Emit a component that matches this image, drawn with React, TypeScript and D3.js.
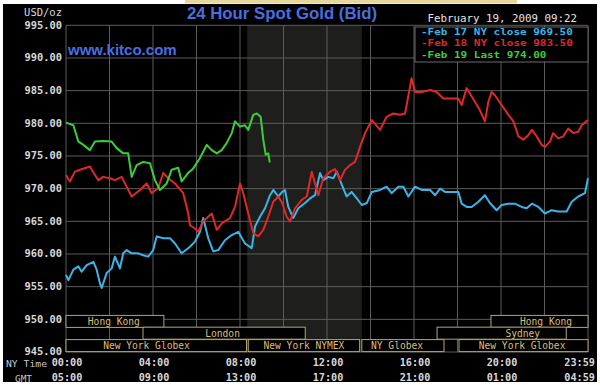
import React from "react";
import * as d3 from "d3";

const title = "24 Hour Spot Gold (Bid)";
const stamp = "February 19, 2009 09:22";
const yTicks = [945, 950, 955, 960, 965, 970, 975, 980, 985, 990, 995];
const xTickHours = [0, 4, 8, 12, 16, 20, 24];
const nyLabels = ["00:00", "04:00", "08:00", "12:00", "16:00", "20:00", "23:59"];
const gmtLabels = ["05:00", "09:00", "13:00", "17:00", "21:00", "01:00", "04:59"];
const gridHours = [0, 2, 4, 6, 8, 10, 12, 14, 16, 18, 20, 22, 24];
const nymexShade = [8.33, 13.6];

const legendLabels = ["-Feb 17 NY close 969.50", "-Feb 18 NY close 983.50", "-Feb 19 Last 974.00"];

// sessions: [name, row, startHour, endHour, labelHour]
const sessions: [string, number, number, number, number][] = [
  ["Hong Kong", 0, 0, 4.5, 2.2],
  ["Hong Kong", 0, 19.54, 24, 22.07],
  ["London", 1, 3.54, 11, 7.2],
  ["Sydney", 1, 17.06, 23, 21.0],
  ["New York Globex", 2, 0, 8.3, 3.7],
  ["New York NYMEX", 2, 8.38, 13.5, 10.94],
  ["NY Globex", 2, 13.6, 17.38, 15.22],
  ["New York Globex", 2, 18.07, 24, 20.97],
];

// Feb 17 (cyan): [hour, price]
const feb17: [number, number][] = [
  [0, 956.8], [0.11, 956.0], [0.34, 957.6], [0.57, 958.1], [0.72, 957.3], [0.95, 958.3],
  [1.26, 958.8], [1.41, 957.6], [1.56, 955.5], [1.64, 954.8], [1.87, 957.1], [2.1, 957.8],
  [2.25, 959.6], [2.48, 957.8], [2.63, 960.1], [2.79, 960.6], [3.02, 960.1], [3.32, 960.1],
  [3.55, 959.8], [3.78, 959.6], [4.01, 960.6], [4.17, 962.7], [4.47, 962.4], [4.78, 962.4],
  [5.01, 961.6], [5.32, 960.1], [5.7, 961.1], [5.93, 961.9], [6.16, 963.4], [6.31, 965.5],
  [6.54, 962.4], [6.77, 960.4], [7.0, 960.6], [7.31, 962.1], [7.62, 962.9], [7.92, 963.4],
  [8.23, 961.6], [8.54, 960.9], [8.69, 964.2], [8.92, 965.7], [9.15, 967.0], [9.38, 969.0],
  [9.53, 969.8], [9.76, 968.8], [9.94, 969.5], [10.07, 969.8], [10.22, 967.2], [10.45, 965.5],
  [10.68, 967.0], [10.99, 967.8], [11.22, 968.5], [11.45, 969.0], [11.68, 972.4], [11.83, 971.3],
  [12.06, 971.8], [12.29, 971.6], [12.45, 972.6], [12.68, 970.6], [12.9, 968.8], [13.13, 969.5],
  [13.37, 968.5], [13.6, 967.5], [13.83, 967.8], [14.06, 969.5], [14.44, 969.8], [14.74, 970.3],
  [14.97, 969.3], [15.28, 970.3], [15.51, 970.3], [15.74, 968.8], [16.05, 970.3], [16.35, 969.8],
  [16.74, 969.8], [16.97, 969.0], [17.2, 970.0], [17.43, 969.5], [18.04, 969.5], [18.19, 967.7],
  [18.42, 967.2], [18.65, 967.2], [18.96, 968.0], [19.26, 969.0], [19.49, 967.8], [19.8, 966.7],
  [20.03, 967.5], [20.34, 967.7], [20.64, 967.7], [20.95, 967.2], [21.18, 967.0], [21.42, 967.7],
  [21.72, 967.2], [22.02, 966.2], [22.33, 966.7], [22.63, 966.5], [23.02, 966.5], [23.25, 968.0],
  [23.55, 968.8], [23.86, 969.3], [24.0, 971.6],
];

// Feb 18 (red): [hour, price]
const feb18: [number, number][] = [
  [0, 972.1], [0.18, 971.1], [0.41, 972.6], [0.64, 972.9], [1.1, 973.4], [1.33, 972.1],
  [1.49, 971.3], [1.71, 971.8], [2.02, 971.6], [2.25, 971.3], [2.56, 971.8], [2.71, 970.8],
  [3.02, 968.8], [3.4, 969.8], [3.71, 970.8], [3.94, 969.3], [4.24, 970.1], [4.47, 972.4],
  [4.7, 971.6], [5.01, 970.8], [5.39, 969.3], [5.62, 966.2], [5.7, 964.4], [5.93, 963.9],
  [6.08, 963.4], [6.31, 965.0], [6.7, 966.2], [6.93, 963.7], [7.16, 964.7], [7.54, 965.5],
  [7.77, 967.2], [8.0, 970.8], [8.15, 969.3], [8.38, 966.2], [8.61, 963.2], [8.84, 962.7],
  [9.07, 963.7], [9.3, 965.7], [9.53, 968.0], [9.76, 968.8], [9.94, 967.8], [10.15, 965.7],
  [10.3, 965.0], [10.53, 967.0], [10.84, 968.3], [11.07, 968.8], [11.3, 972.6], [11.45, 970.8],
  [11.6, 969.0], [11.83, 971.6], [12.14, 972.6], [12.37, 973.0], [12.6, 971.3], [12.83, 972.9],
  [13.06, 973.6], [13.29, 974.1], [13.52, 976.4], [13.75, 978.5], [14.06, 980.5], [14.44, 979.0],
  [14.74, 981.0], [15.05, 981.5], [15.36, 981.3], [15.59, 981.5], [15.89, 986.9], [16.05, 984.8],
  [16.35, 984.8], [16.74, 985.1], [17.04, 984.8], [17.35, 983.8], [18.04, 983.8], [18.19, 982.8],
  [18.42, 985.4], [18.8, 983.3], [19.03, 982.0], [19.26, 980.3], [19.42, 983.3], [19.57, 984.8],
  [19.72, 984.3], [20.03, 982.8], [20.34, 981.3], [20.57, 980.3], [20.8, 978.0], [21.03, 977.5],
  [21.26, 978.2], [21.42, 979.0], [21.64, 978.0], [21.87, 976.7], [22.02, 976.4], [22.25, 977.2],
  [22.4, 978.5], [22.63, 977.7], [22.86, 978.0], [23.09, 979.2], [23.32, 978.5], [23.55, 978.7],
  [23.71, 979.7], [24.0, 980.5],
];

// Feb 19 (green): [hour, price]
const feb19: [number, number][] = [
  [0, 980.1], [0.34, 979.7], [0.57, 977.2], [0.8, 976.7], [1.1, 975.9], [1.33, 977.2],
  [1.71, 977.3], [2.1, 977.2], [2.33, 976.2], [2.63, 975.4], [2.86, 975.4], [3.02, 971.8],
  [3.25, 973.6], [3.55, 974.1], [3.86, 973.9], [4.09, 971.3], [4.32, 969.8], [4.63, 970.8],
  [4.86, 972.9], [5.16, 973.2], [5.32, 971.1], [5.62, 972.4], [5.85, 973.1], [6.16, 974.7],
  [6.47, 976.7], [6.7, 975.9], [6.93, 975.4], [7.16, 975.9], [7.39, 977.0], [7.62, 978.5],
  [7.77, 980.3], [8.0, 979.5], [8.23, 979.7], [8.38, 979.0], [8.61, 981.3], [8.77, 981.5],
  [8.95, 981.0], [9.07, 977.5], [9.18, 975.2], [9.3, 975.4], [9.37, 974.0],
];

const seriesColors = ["#3cb4e6", "#e02828", "#3ccc3c"];

export default function App() {
  const W = 600, H = 385;
  const x = d3.scaleLinear().domain([0, 24]).range([66, 588]);
  const y = d3.scaleLinear().domain([945, 995]).range([352, 25.3]);
  const line = d3.line<[number, number]>().x((d) => x(d[0])).y((d) => y(d[1]));
  const mono = "'DejaVu Sans Mono', monospace";
  const sans = "'Liberation Sans', Arial, sans-serif";
  const rowTop = [y(950.6), y(948.8), y(946.9)];
  const rowH = 12;
  const series = [feb17, feb18, feb19];
  const last = xTickHours.length - 1;

  return (
    <svg width={W} height={H} style={{ position: "absolute", left: 0, top: 0, background: "#fff" }}>
      <rect x={3} y={4} width={594} height={378} fill="#000" />
      <rect x={185} y={0} width={332} height={3.5} fill="#e6d79e" />
      {/* NYMEX shade */}
      <rect x={x(nymexShade[0])} y={y(995)} width={x(nymexShade[1]) - x(nymexShade[0])} height={y(945) - y(995)} fill="#1e1e1c" />
      {/* grid */}
      {gridHours.map((h) => (
        <line key={"v" + h} x1={x(h)} x2={x(h)} y1={y(995)} y2={y(945)} stroke="#5c5c5c" strokeWidth={1} />
      ))}
      {yTicks.map((v) => (
        <line key={"h" + v} x1={x(0)} x2={x(24)} y1={y(v)} y2={y(v)} stroke="#5c5c5c" strokeWidth={1} />
      ))}
      {/* sessions */}
      {sessions.map(([name, row, s, e, lab], i) => (
        <g key={"s" + i}>
          <rect x={x(s)} y={rowTop[row]} width={x(e) - x(s)} height={rowH} fill="#000" stroke="#b4a46e" strokeWidth={1} />
          <text x={x(lab)} y={rowTop[row] + rowH / 2 + 0.5} textAnchor="middle" dominantBaseline="middle" fill="#d8bf78" fontFamily={mono} fontSize={9.6}>
            {name}
          </text>
        </g>
      ))}
      {/* series */}
      {series.map((s, i) => (
        <path key={"p" + i} d={line(s) || ""} fill="none" stroke={seriesColors[i]} strokeWidth={2} strokeLinejoin="round" />
      ))}
      {/* y labels */}
      <text x={62} y={13} textAnchor="end" dominantBaseline="middle" fill="#d8d8d8" fontFamily={mono} fontSize={10.5}>USD/oz</text>
      {yTicks.map((v) => (
        <text key={"yl" + v} x={62} y={y(v) + 0.3} textAnchor="end" dominantBaseline="middle" fill="#d8d8d8" fontFamily={mono} fontWeight="bold" fontSize={10.4}>
          {v.toFixed(2)}
        </text>
      ))}
      {/* x labels */}
      <text x={6} y={364} dominantBaseline="middle" fill="#c8c8c8" fontFamily={mono} fontSize={8} textLength={41} lengthAdjust="spacingAndGlyphs">NY Time</text>
      <text x={15} y={379} dominantBaseline="middle" fill="#c8c8c8" fontFamily={mono} fontSize={8} textLength={17} lengthAdjust="spacingAndGlyphs">GMT</text>
      {xTickHours.map((h, i) => (
        <g key={"xl" + i}>
          <text x={i === last ? 595 : x(h) + 1} y={363} textAnchor={i === last ? "end" : "middle"} dominantBaseline="middle" fill="#d8d8d8" fontFamily={mono} fontWeight="bold" fontSize={10.2}>
            {nyLabels[i]}
          </text>
          <text x={i === last ? 595 : x(h) + 1} y={378} textAnchor={i === last ? "end" : "middle"} dominantBaseline="middle" fill="#d8d8d8" fontFamily={mono} fontWeight="bold" fontSize={10.2}>
            {gmtLabels[i]}
          </text>
        </g>
      ))}
      {/* title */}
      <text x={282} y={15} textAnchor="middle" dominantBaseline="middle" fill="#4a6ee0" fontFamily={sans} fontWeight="bold" fontSize={16.8}>{title}</text>
      <text x={68} y={51} dominantBaseline="middle" fill="#4a6ee0" fontFamily={sans} fontWeight="bold" fontSize={15}>www.kitco.com</text>
      <text x={577} y={19} textAnchor="end" dominantBaseline="middle" fill="#e4e4e4" fontFamily={mono} fontSize={10.8}>{stamp}</text>
      {/* legend */}
      <rect x={415} y={27} width={173} height={35} fill="#000" stroke="#6a6a6a" strokeWidth={1} />
      {legendLabels.map((t, i) => (
        <text key={"lg" + i} x={421} y={32.5 + i * 11.3} dominantBaseline="middle" fill={seriesColors[i]} fontFamily={mono} fontWeight="bold" fontSize={9.4} textLength={t.length * 6.6} lengthAdjust="spacingAndGlyphs">
          {t}
        </text>
      ))}
    </svg>
  );
}
